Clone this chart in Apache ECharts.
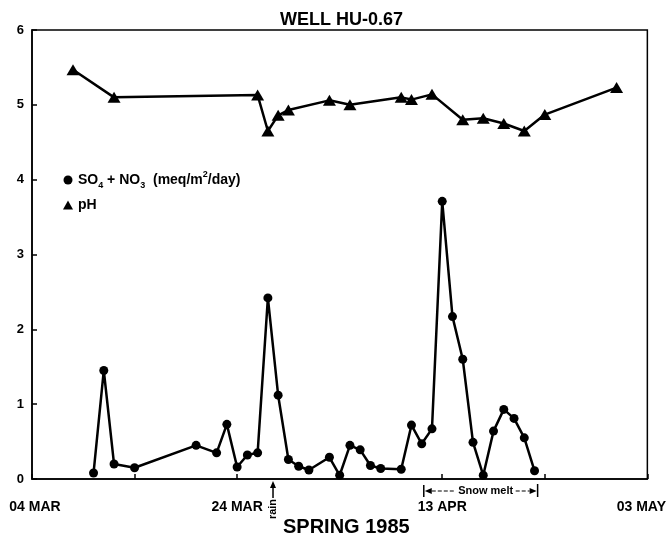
<!DOCTYPE html>
<html>
<head>
<meta charset="utf-8">
<script src="https://cdn.jsdelivr.net/npm/echarts@6/dist/echarts.min.js"></script>
<style>
html,body{margin:0;padding:0;background:#fff;}
#chart{width:669px;height:543px;}
</style>
</head>
<body>
<div id="chart"></div>
<script>
// ---- data ----
const startDate = '1985-03-04';
const xTickDays = [0, 20, 40, 60];
const xTickLabels = ['04 MAR', '24 MAR', '13 APR', '03 MAY'];
const yTickLabels = ['0', '1', '2', '3', '4', '5', '6'];

const soDates = ['1985-03-10','1985-03-11','1985-03-12','1985-03-14','1985-03-20','1985-03-22','1985-03-23',
  '1985-03-24','1985-03-25','1985-03-26','1985-03-27','1985-03-28','1985-03-29','1985-03-30','1985-03-31',
  '1985-04-02','1985-04-03','1985-04-04','1985-04-05','1985-04-06','1985-04-07','1985-04-09','1985-04-10',
  '1985-04-11','1985-04-12','1985-04-13','1985-04-14','1985-04-15','1985-04-16','1985-04-17','1985-04-18',
  '1985-04-19','1985-04-20','1985-04-21','1985-04-22'];
const soValues = [0.08,1.45,0.20,0.15,0.45,0.35,0.73,0.16,0.32,0.35,2.42,1.12,0.26,0.17,0.12,
  0.29,0.05,0.45,0.39,0.18,0.14,0.13,0.72,0.47,0.67,3.71,2.17,1.60,0.49,0.05,0.64,0.93,0.81,0.55,0.11];

const phDates = ['1985-03-08','1985-03-12','1985-03-26','1985-03-27','1985-03-28','1985-03-29','1985-04-02',
  '1985-04-04','1985-04-09','1985-04-10','1985-04-12','1985-04-15','1985-04-17','1985-04-19','1985-04-21',
  '1985-04-23','1985-04-30'];
const phValues = [5.47,5.10,5.13,4.65,4.86,4.93,5.06,5.00,5.10,5.07,5.14,4.80,4.82,4.75,4.65,4.87,5.23];

const rainDay = 23.5;
const snowMeltStart = 38.2;
const snowMeltEnd = 49.3;

// ---- helpers ----
const DAY = 86400000;
function dayOffset(d) { return (Date.parse(d) - Date.parse(startDate)) / DAY; }
const soData = soDates.map((d, i) => [dayOffset(d), soValues[i]]);
const phData = phDates.map((d, i) => [dayOffset(d), phValues[i]]);

const FONT = '"Liberation Sans", Arial, Helvetica, sans-serif';
const chart = echarts.init(document.getElementById('chart'), null, {renderer: 'canvas'});

const option = {
  backgroundColor: '#fff',
  animation: false,
  title: [
    {text: 'WELL HU-0.67', left: 280, top: 11, padding: 0,
     textStyle: {fontFamily: FONT, fontWeight: 'bold', fontSize: 18, color: '#000'}},
    {text: 'SPRING 1985', left: 283, top: 517, padding: 0,
     textStyle: {fontFamily: FONT, fontWeight: 'bold', fontSize: 20, color: '#000'}}
  ],
  grid: {left: 32, right: 20, top: 30, bottom: 64, show: true, borderColor: '#000', borderWidth: 1.5,
    backgroundColor: 'transparent'},
  legend: {
    orient: 'vertical', left: 58, top: 165, itemWidth: 10, itemHeight: 9, itemGap: 8,
    data: [{name: 'SO', icon: 'circle'}, {name: 'pH', icon: 'triangle'}],
    formatter: function (name) {
      if (name === 'SO') return '{a|SO}{s|4}{a| + NO}{s|3}{a|  (meq/m}{p|2}{a|/day)}';
      return '{a|pH}';
    },
    textStyle: {
      color: '#000',
      rich: {
        a: {fontFamily: FONT, fontWeight: 'bold', fontSize: 14, color: '#000', lineHeight: 20, verticalAlign: 'middle'},
        s: {fontFamily: FONT, fontWeight: 'bold', fontSize: 9, color: '#000', verticalAlign: 'bottom'},
        p: {fontFamily: FONT, fontWeight: 'bold', fontSize: 9, color: '#000', verticalAlign: 'top'}
      }
    }
  },
  xAxis: {
    type: 'value', min: 0, max: 60, interval: 10,
    axisLine: {show: true, lineStyle: {color: '#000', width: 1.5}},
    axisTick: {show: true, inside: true, length: 5, lineStyle: {color: '#000', width: 1.5}},
    splitLine: {show: false},
    axisLabel: {
      margin: 21, showMinLabel: true, showMaxLabel: true,
      fontFamily: FONT, fontWeight: 'bold', fontSize: 14, color: '#000',
      formatter: function (v) {
        const i = xTickDays.indexOf(v);
        if (i < 0) return '';
        if (i === 0) return '{l|' + xTickLabels[i] + '}';
        if (i === xTickLabels.length - 1) return '{r|' + xTickLabels[i] + '}';
        return xTickLabels[i];
      },
      rich: {
        l: {fontFamily: FONT, fontWeight: 'bold', fontSize: 14, color: '#000', padding: [0, 0, 0, 6]},
        r: {fontFamily: FONT, fontWeight: 'bold', fontSize: 14, color: '#000', padding: [0, 12, 0, 0]}
      }
    }
  },
  yAxis: {
    type: 'value', min: 0, max: 6, interval: 1,
    axisLine: {show: true, lineStyle: {color: '#000', width: 1.5}},
    axisTick: {show: true, inside: true, length: 5, lineStyle: {color: '#000', width: 1.5}},
    splitLine: {show: false},
    axisLabel: {margin: 8, fontFamily: FONT, fontWeight: 'bold', fontSize: 13, color: '#000',
      formatter: v => yTickLabels[v]}
  },
  series: [
    {name: 'pH', type: 'line', data: phData, symbol: 'triangle', symbolSize: [13, 11],
     lineStyle: {color: '#000', width: 2.5}, itemStyle: {color: '#000'}, z: 3},
    {name: 'SO', type: 'line', data: soData, symbol: 'circle', symbolSize: 9,
     lineStyle: {color: '#000', width: 2.5}, itemStyle: {color: '#000'}, z: 4}
  ]
};
chart.setOption(option);

// annotations placed via axis scale
const rx = chart.convertToPixel({xAxisIndex: 0}, rainDay);
const sx0 = chart.convertToPixel({xAxisIndex: 0}, snowMeltStart);
const sx1 = chart.convertToPixel({xAxisIndex: 0}, snowMeltEnd);
const sy = 491;
const stroke = {stroke: '#000', lineWidth: 1.5};
const txtMid = (sx0 + sx1) / 2 + 5;
chart.setOption({
  graphic: [
    {type: 'line', shape: {x1: rx, y1: 498, x2: rx, y2: 486}, style: stroke},
    {type: 'polygon', shape: {points: [[rx, 481], [rx - 3, 488], [rx + 3, 488]]}, style: {fill: '#000'}},
    {type: 'text', x: rx, y: 509, rotation: Math.PI / 2,
     style: {text: 'rain', fontFamily: FONT, fontWeight: 'bold', fontSize: 11, fill: '#000', align: 'center', verticalAlign: 'middle'}},
    {type: 'line', shape: {x1: sx0, y1: 485, x2: sx0, y2: 497}, style: stroke},
    {type: 'polygon', shape: {points: [[sx0 + 1, sy], [sx0 + 8, sy - 3], [sx0 + 8, sy + 3]]}, style: {fill: '#000'}},
    {type: 'line', shape: {x1: sx0 + 8, y1: sy, x2: txtMid - 30, y2: sy}, style: {stroke: '#000', lineWidth: 1.2, lineDash: [4, 2]}},
    {type: 'text', x: txtMid, y: sy, style: {text: 'Snow melt', fontFamily: FONT, fontWeight: 'bold', fontSize: 11, fill: '#000', align: 'center', verticalAlign: 'middle'}},
    {type: 'line', shape: {x1: txtMid + 30, y1: sy, x2: sx1 - 8, y2: sy}, style: {stroke: '#000', lineWidth: 1.2, lineDash: [4, 2]}},
    {type: 'polygon', shape: {points: [[sx1 - 1, sy], [sx1 - 8, sy - 3], [sx1 - 8, sy + 3]]}, style: {fill: '#000'}},
    {type: 'line', shape: {x1: sx1, y1: 484, x2: sx1, y2: 497}, style: stroke}
  ]
});
</script>
</body>
</html>
